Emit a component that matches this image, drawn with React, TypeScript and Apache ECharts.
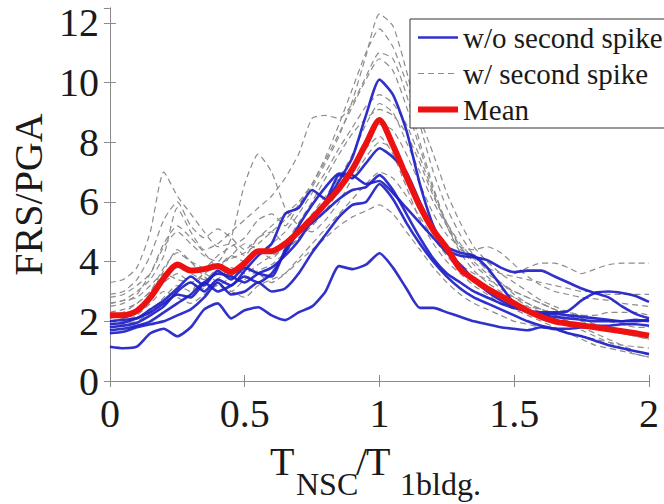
import React, { useEffect, useRef } from "react";
import * as echarts from "echarts";

const X = [0,0.05,0.1,0.15,0.2,0.25,0.3,0.35,0.4,0.45,0.5,0.55,0.6,0.65,0.7,0.75,0.8,0.85,0.9,0.95,1.0,1.05,1.1,1.15,1.2,1.25,1.3,1.35,1.4,1.45,1.5,1.55,1.6,1.65,1.7,1.75,1.8,1.85,1.9,1.95,2.0];

const MEAN = [2.2,2.2,2.35,2.8,3.45,3.9,3.7,3.75,3.85,3.65,3.95, 4.35,4.35,4.6,5.0,5.45,5.95,6.45,7.1,7.95,8.75, 7.9,6.85,5.85,5.05,4.45,3.75,3.4,3.1,2.85,2.6, 2.35,2.15,2.0,1.92,1.86,1.8,1.73,1.67,1.6,1.52];

const B1 = [1.15,1.1,1.15,1.6,1.75,1.5,1.8,2.4,2.6,2.1,2.37, 2.47,2.2,2.04,2.3,2.5,3.0,3.85,3.75,3.9,4.28, 3.8,3.1,2.45,2.45,2.3,2.15,2.0,1.9,1.8,1.75, 1.7,1.8,1.75,1.75,1.8,1.85,1.85,1.9,1.9,1.85];
const B2 = [1.9,1.95,2.1,2.3,2.6,2.9,2.8,3.3,3.6,3.5,3.3, 3.6,3.8,4.2,4.7,5.4,6.0,6.7,7.5,8.9,10.1, 9.6,8.4,6.6,5.2,4.4,4.2,4.15,4.05,3.8,3.65, 3.7,3.7,3.5,3.3,3.1,2.95,2.8,2.5,2.25,2.1];
const B3 = [1.8,1.85,1.95,2.2,2.5,3.0,3.3,3.0,3.4,3.2,3.7, 4.2,4.6,5.6,5.8,6.4,6.1,6.9,6.8,7.3,7.8, 7.5,7.0,6.0,5.1,4.5,4.3,4.2,3.8,3.2,2.6, 2.3,2.25,2.25,2.2,2.15,2.1,2.05,2.0,2.0,2.05];
const B4 = [1.7,1.75,1.85,2.0,2.3,2.6,2.9,3.3,3.0,3.2,3.5, 3.3,3.6,4.3,5.0,5.3,5.7,6.1,6.4,6.5,6.9, 6.4,5.6,4.8,4.1,3.6,3.3,3.0,2.8,2.6,2.45, 2.35,2.3,2.3,2.35,2.7,2.95,3.0,2.95,2.85,2.65];
const B5 = [1.6,1.65,1.8,1.9,2.0,2.2,2.4,2.8,3.3,2.9,3.0, 3.3,3.0,3.1,3.6,4.3,4.9,5.5,5.9,6.0,6.6, 6.1,5.3,4.6,4.0,3.5,3.1,2.8,2.6,2.4,2.2, 2.0,1.85,1.75,1.6,1.5,1.35,1.2,1.1,1.0,0.9];
const B6 = [2.0,2.05,2.1,2.4,2.7,3.1,3.5,3.2,3.7,3.4,3.8, 3.6,3.5,4.4,5.2,5.9,6.5,6.95,6.9,6.6,6.7, 6.3,5.8,5.3,4.8,4.3,3.9,3.4,3.0,2.7,2.5, 2.35,2.2,2.15,2.1,2.05,2.0,2.0,2.0,2.05,2.0];

const G1 = [2.6,2.7,2.8,3.2,3.6,3.4,3.3,3.6,3.9,4.1,4.3, 4.6,5.0,5.4,5.9,6.5,7.3,8.2,9.4,10.9,12.3, 11.9,10.4,8.6,7.0,5.8,4.9,4.2,3.7,3.3,2.9, 2.6,2.4,2.2,2.0,1.9,1.8,1.7,1.6,1.5,1.4];
const G2 = [2.3,2.4,2.6,3.0,3.8,4.3,4.0,3.8,4.2,4.5,4.8, 5.4,5.6,5.2,5.9,6.6,7.5,8.6,9.8,11.0,11.8, 11.2,10.0,8.8,7.6,6.3,5.3,4.5,4.0,3.6,3.3, 3.0,2.7,2.5,2.3,2.1,1.9,1.8,1.6,1.5,1.4];
const G3 = [3.3,3.4,3.8,5.0,7.0,6.2,5.6,5.0,4.5,4.6,4.2, 4.8,5.0,4.6,5.1,5.6,6.2,6.8,7.6,8.6,9.3, 9.0,8.0,7.0,6.0,5.2,4.5,4.0,3.6,3.3,3.0, 2.8,2.6,2.4,2.3,2.2,2.1,2.0,1.9,1.8,1.8];
const G4 = [2.8,2.9,3.2,3.6,4.5,5.0,4.6,4.2,4.0,4.8,6.6, 7.6,7.0,5.8,5.2,5.0,5.4,6.0,6.8,7.5,8.0, 7.8,7.0,6.0,5.0,4.3,3.9,3.6,3.4,3.2,3.0, 2.8,2.6,2.4,2.2,2.0,1.9,1.8,1.7,1.6,1.5];
const G5 = [2.6,2.7,3.0,3.4,4.2,5.8,5.0,4.4,4.6,5.0,5.4, 5.8,6.2,6.8,7.6,8.8,8.9,8.8,9.3,10.2,11.0, 10.8,9.6,8.0,6.5,5.2,4.3,3.7,3.3,3.0,2.8, 2.6,2.4,2.2,2.0,1.8,1.6,1.4,1.2,1.0,0.9];
const G6 = [2.2,2.3,2.6,3.0,3.5,3.8,3.6,3.4,3.8,4.2,4.0, 4.3,4.6,5.0,5.6,6.3,7.0,7.8,8.5,9.2,9.6, 9.3,8.6,7.5,6.3,5.2,4.4,4.2,4.0,3.8,3.6, 3.8,3.95,3.95,3.8,3.6,3.75,3.9,3.95,3.95,3.95];
const G7 = [2.0,2.1,2.3,2.8,3.3,3.6,3.3,3.1,3.4,3.8,3.6, 3.9,4.2,4.4,4.8,5.2,5.7,6.4,7.2,8.0,8.6, 8.4,7.6,6.6,5.6,4.9,4.5,4.4,4.5,4.3,3.9, 3.5,3.2,3.0,2.9,2.8,2.75,2.7,2.6,2.55,2.5];
const G8 = [1.8,1.9,2.0,2.3,2.8,3.2,3.0,3.6,3.3,3.0,3.4, 3.7,3.9,4.3,4.8,5.3,5.9,6.5,7.2,7.8,8.2, 7.6,6.5,5.4,4.6,4.0,3.6,3.2,2.9,2.6,2.4, 2.2,2.0,1.8,1.6,1.4,1.2,1.1,1.0,0.9,0.8];
const G9 = [1.9,2.0,2.2,2.6,3.0,2.8,2.6,2.9,3.2,3.0,2.8, 3.2,3.4,3.6,4.0,4.4,4.8,5.2,5.5,5.7,5.9, 5.6,5.0,4.4,3.8,3.3,2.9,2.6,2.4,2.2,2.0, 1.9,1.8,1.7,1.6,1.5,1.4,1.3,1.2,1.15,1.1];
const G10 = [2.9,3.0,3.4,4.2,5.4,6.0,5.2,4.8,5.1,4.8,4.4, 4.8,5.2,5.6,6.0,6.6,7.4,8.3,9.2,10.1,10.8, 10.4,9.2,7.8,6.4,5.3,4.5,3.9,3.5,3.1,2.8, 2.5,2.3,2.1,1.9,1.7,1.5,1.3,1.1,0.9,0.8];
const G11 = [2.5,2.6,2.9,3.6,4.6,5.2,4.8,4.3,3.8,4.2,4.6, 4.4,4.1,4.6,5.3,6.0,6.8,7.6,8.3,8.8,9.1, 8.9,8.3,7.3,6.2,5.3,4.6,4.1,3.8,3.6,3.5, 3.4,3.3,3.2,3.1,3.0,3.0,2.9,2.9,2.9,2.9];
const G12 = [2.1,2.2,2.4,2.9,3.7,4.4,4.0,3.5,3.2,3.5,3.9, 3.6,3.3,3.6,4.1,4.6,5.1,5.6,6.1,6.6,7.0, 6.8,6.2,5.5,4.8,4.2,3.7,3.3,3.0,2.8,2.6, 2.5,2.4,2.3,2.3,2.2,2.2,2.3,2.3,2.3,2.2];

const BLUE_LINES = [B1, B2, B3, B4, B5, B6];
const GRAY_LINES = [G1, G2, G3, G4, G5, G6, G7, G8, G9, G10, G11, G12];

const X_TICKS = { min: 0, max: 2, interval: 0.5 };
const Y_TICKS = { min: 0, max: 12.5, interval: 2 };

const NAME_BLUE = "w/o second spike";
const NAME_GRAY = "w/ second spike";
const NAME_MEAN = "Mean";

const FONT = "Liberation Serif, Times New Roman, Times, serif";
const AXIS_GRAY = "#8a8a8a";
const TEXT = "#1a1a1a";
const BLUE = "#1e1ec6";
const GRAY = "#8c8c8c";
const RED = "#ee1111";

export default function App() {
  const ref = useRef<HTMLDivElement>(null);
  useEffect(() => {
    if (!ref.current) return;
    const chart = echarts.init(ref.current, null, { renderer: "svg" });
    const pair = (ys: number[]) => X.map((x, i) => [x, ys[i]]);

    const series: any[] = [
      ...GRAY_LINES.map((g) => ({
        type: "line",
        name: NAME_GRAY,
        data: pair(g),
        symbol: "none",
        smooth: 0.2,
        lineStyle: { color: GRAY, width: 1.2, type: [6, 4] },
        itemStyle: { color: GRAY },
        z: 2,
      })),
      ...BLUE_LINES.map((b) => ({
        type: "line",
        name: NAME_BLUE,
        data: pair(b),
        symbol: "none",
        smooth: 0.2,
        lineStyle: { color: BLUE, width: 2.6, opacity: 0.92 },
        itemStyle: { color: BLUE },
        z: 3,
      })),
      {
        type: "line",
        name: NAME_MEAN,
        data: pair(MEAN),
        symbol: "none",
        smooth: 0.25,
        lineStyle: { color: RED, width: 6 },
        itemStyle: { color: RED },
        z: 4,
      },
    ];

    const axisCommon = {
      type: "value",
      splitLine: { show: false },
      axisLine: { show: true, lineStyle: { color: AXIS_GRAY, width: 1 } },
      axisTick: { show: true, inside: true, length: 6, lineStyle: { color: AXIS_GRAY } },
    };
    const richLabel = { t: { fontFamily: FONT, fontSize: 40, color: TEXT } };
    const fmt = (v: number) => `{t|${v}}`;

    chart.setOption({
      animation: false,
      backgroundColor: "#ffffff",
      textStyle: { fontFamily: FONT, color: TEXT },
      grid: { left: 103, right: 15, top: 8, bottom: 123 },
      legend: {
        orient: "vertical",
        left: 410,
        top: 19,
        data: [
          { name: NAME_BLUE, lineStyle: { color: BLUE, width: 2.6 } },
          { name: NAME_GRAY, lineStyle: { color: GRAY, width: 1.2, type: [6, 4] } },
          { name: NAME_MEAN, lineStyle: { color: RED, width: 6 } },
        ],
        itemWidth: 40,
        itemHeight: 14,
        itemGap: 7,
        padding: [4, 6, 4, 5],
        borderColor: "#333",
        borderWidth: 1,
        backgroundColor: "#ffffff",
        itemStyle: { opacity: 0, color: "rgba(0,0,0,0)", borderWidth: 0 },
        textStyle: { fontFamily: FONT, fontSize: 29, color: TEXT },
      },
      xAxis: [
        {
          ...axisCommon,
          position: "bottom",
          ...X_TICKS,
          axisLabel: { fontFamily: FONT, fontSize: 40, color: TEXT, margin: 12, formatter: fmt, rich: richLabel },
        },
        {
          ...axisCommon,
          position: "top",
          ...X_TICKS,
          axisLabel: { show: false },
        },
      ],
      yAxis: [
        {
          ...axisCommon,
          position: "left",
          ...Y_TICKS,
          axisLabel: { fontFamily: FONT, fontSize: 40, color: TEXT, margin: 11, showMaxLabel: false, formatter: fmt, rich: richLabel },
          name: "FRS/PGA",
          nameLocation: "middle",
          nameGap: 58,
          nameTextStyle: { fontFamily: FONT, fontSize: 40, color: TEXT },
        },
        {
          ...axisCommon,
          position: "right",
          ...Y_TICKS,
          axisLabel: { show: false },
        },
      ],
      graphic: [
        { type: "text", x: 270, y: 461, style: { text: "T", fontFamily: FONT, fontSize: 40, fill: TEXT, align: "left", verticalAlign: "middle", textAlign: "left", textVerticalAlign: "middle" } },
        { type: "text", x: 296, y: 484, style: { text: "NSC", fontFamily: FONT, fontSize: 32, fill: TEXT, align: "left", verticalAlign: "middle", textAlign: "left", textVerticalAlign: "middle" } },
        { type: "text", x: 356, y: 461, style: { text: "/", fontFamily: FONT, fontSize: 40, fill: TEXT, align: "left", verticalAlign: "middle", textAlign: "left", textVerticalAlign: "middle" } },
        { type: "text", x: 366, y: 461, style: { text: "T", fontFamily: FONT, fontSize: 40, fill: TEXT, align: "left", verticalAlign: "middle", textAlign: "left", textVerticalAlign: "middle" } },
        { type: "text", x: 400, y: 484, style: { text: "1bldg.", fontFamily: FONT, fontSize: 32, fill: TEXT, align: "left", verticalAlign: "middle", textAlign: "left", textVerticalAlign: "middle" } },
      ],
      series,
    });
    return () => chart.dispose();
  }, []);

  return (
    <div
      ref={ref}
      style={{ position: "fixed", left: 0, top: 0, width: 664, height: 504, background: "#fff" }}
    />
  );
}
